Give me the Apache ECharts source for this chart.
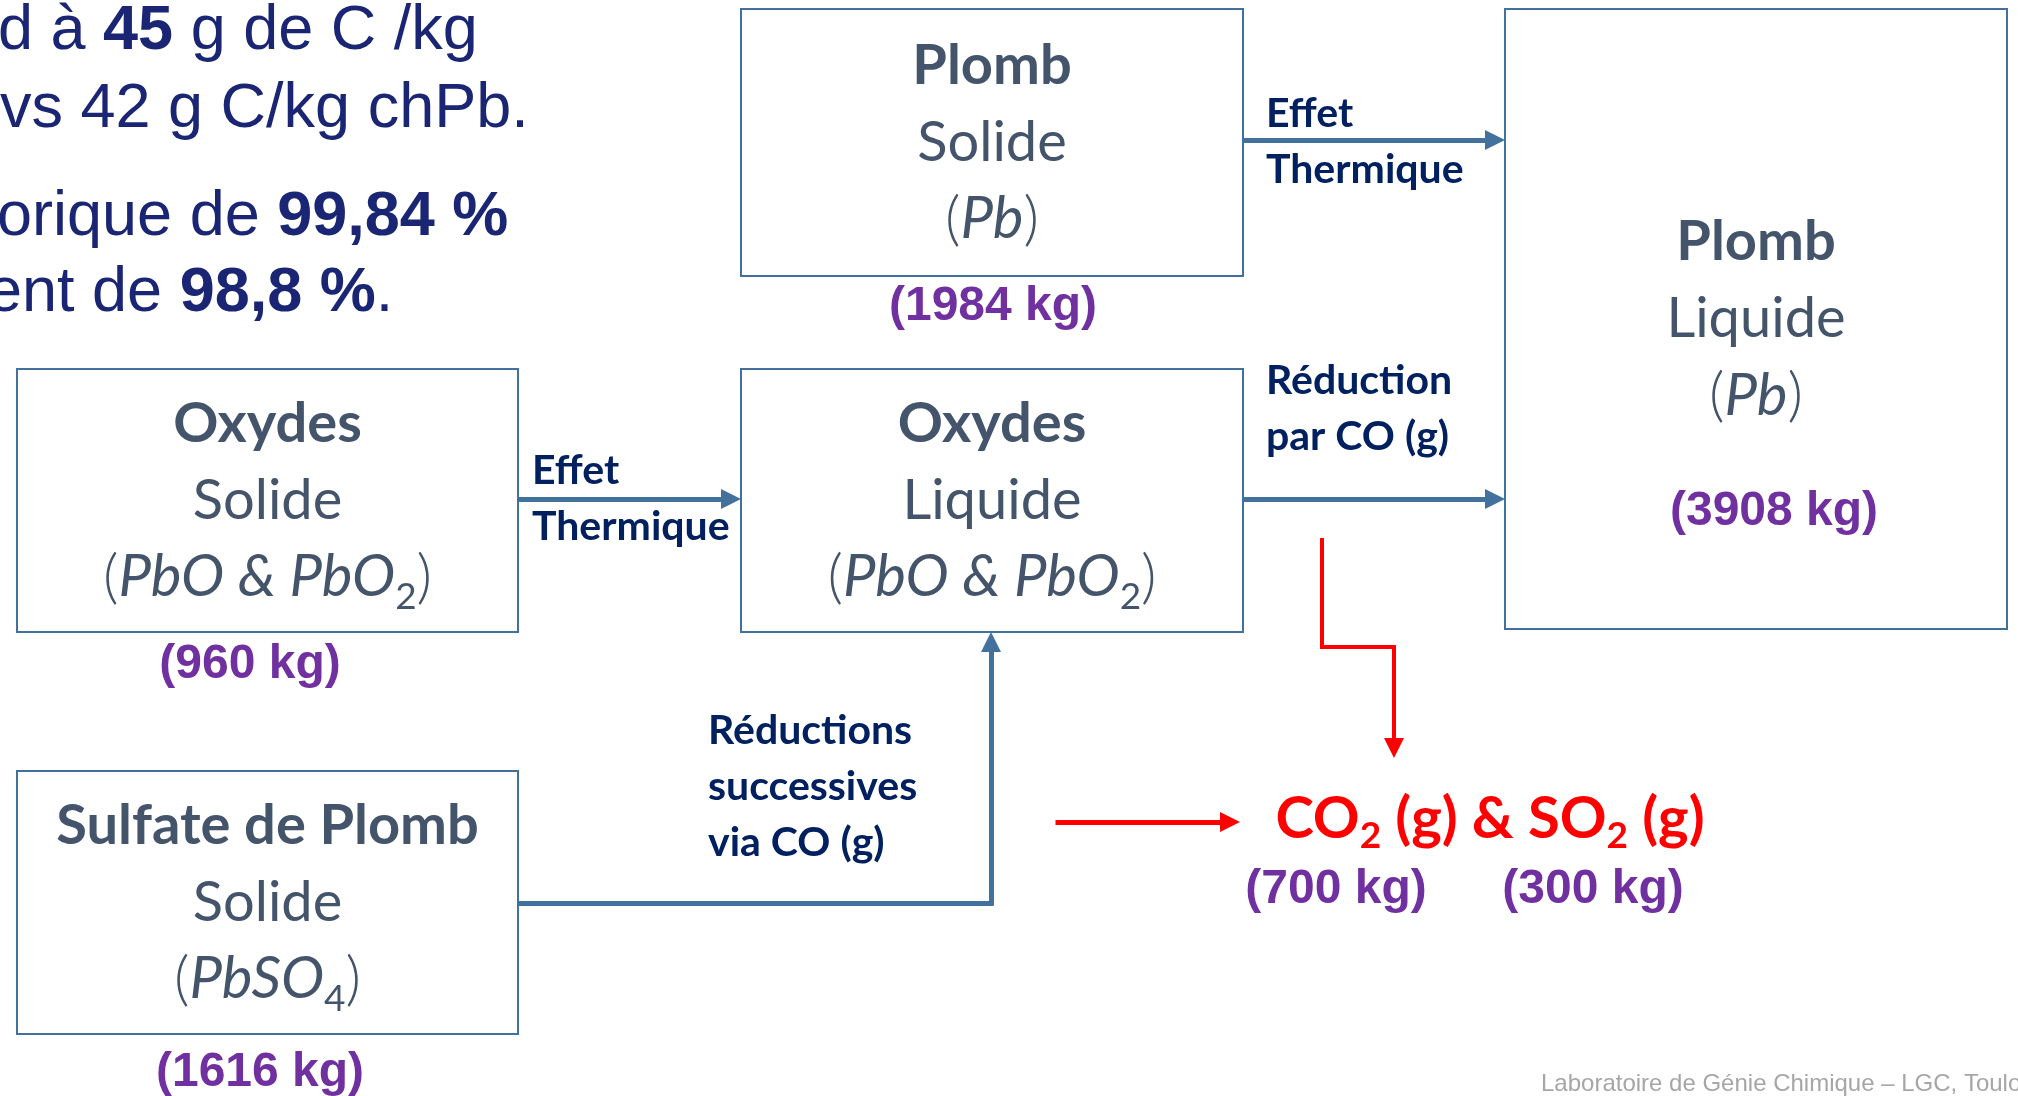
<!DOCTYPE html>
<html>
<head>
<meta charset="utf-8">
<script src="https://cdn.jsdelivr.net/npm/echarts@6/dist/echarts.min.js"></script>
<style>
  html, body { margin: 0; padding: 0; background: #fff; }
  #main { width: 2018px; height: 1096px; }
</style>
</head>
<body>
<div id="main"></div>
<script>
// bilan matière - réduction du plomb
var boxNames = ['Plomb', 'Plomb', 'Oxydes', 'Oxydes', 'Sulfate de Plomb'];
var boxStates = ['Solide', 'Liquide', 'Solide', 'Liquide', 'Solide'];
var boxFormulas = [['Pb', ''], ['Pb', ''], ['PbO & PbO', '2'], ['PbO & PbO', '2'], ['PbSO', '4']];
var boxMasses = [1984, 3908, 960, null, 1616];
var gasNames = [['CO', '2'], ['SO', '2']];
var gasMasses = [700, 300];
var arrowLabels = [
    ['Effet', 'Thermique'],
    ['Effet', 'Thermique'],
    ['Réduction', 'par CO (g)'],
    ['Réductions', 'successives', 'via CO (g)']
];
var noteLines = ['d à {b|45} g de C /kg', 'vs 42 g C/kg chPb.', 'orique de {b|99,84 %}', 'ent de {b|98,8 %}.'];
var footer = 'Laboratoire de Génie Chimique – LGC, Toulouse';

// mise en page (pixels)
var boxLayout = [[741, 9, 502, 267], [1505, 9, 502, 620], [17, 369, 501, 263], [741, 369, 502, 263], [17, 771, 501, 263]];
var massLayout = [[993, 307], [1774, 512], [250, 665], null, [260, 1073]];
var gasMassLayout = [[1336, 890], [1593, 890]];
var labelLayout = [[1266, 142], [532, 499], [1266, 409], [708, 787]];
var noteLayout = [[-2, 32], [0, 110], [-3, 218], [-13, 294]];

var blue = '#41719C';
var slate = '#44546A';
var navy = '#002060';
var purple = '#7030A0';
var red = '#FF0000';
var calibri = 'Lato, "Open Sans", sans-serif';
var arial = '"Liberation Sans", Arial, sans-serif';

// flèches : suite de points, la pointe est au dernier point
var blueArrows = [
    [[1246, 140], [1495, 140]],
    [[521, 499], [731, 499]],
    [[1246, 499], [1495, 499]],
    [[521, 903], [991, 903], [991, 642]]
];
var redArrows = [
    [[1322, 540], [1322, 647], [1394, 647], [1394, 748]]
];
var redArrowsThick = [
    [[1058, 822], [1230, 822]]
];

var graphics = [];

boxNames.forEach(function (name, i) {
    var b = boxLayout[i];
    graphics.push({
        type: 'rect',
        shape: { x: b[0], y: b[1], width: b[2], height: b[3] },
        style: { fill: 'none', stroke: blue, lineWidth: 2 }
    });
    var f = boxFormulas[i];
    var formula = '{p|(}{f|' + f[0] + '}' + (f[1] ? '{sub|' + f[1] + '}' : '') + '{p|)}';
    graphics.push({
        type: 'text',
        x: b[0] + b[2] / 2,
        y: b[1] + b[3] / 2,
        style: {
            text: '{n|' + name + '}\n{s|' + boxStates[i] + '}\n' + formula,
            align: 'center',
            verticalAlign: 'middle',
            lineHeight: 77,
            rich: {
                n: { fontFamily: calibri, fontWeight: 'bold', fontSize: 56, fill: slate, lineHeight: 77 },
                s: { fontFamily: calibri, fontSize: 56, fill: slate, lineHeight: 77 },
                p: { fontFamily: calibri, fontWeight: 300, fontSize: 60, fill: slate, lineHeight: 77 },
                f: { fontFamily: calibri, fontStyle: 'italic', fontSize: 58, fill: slate, lineHeight: 77 },
                sub: { fontFamily: calibri, fontSize: 37, fill: slate, lineHeight: 77, verticalAlign: 'bottom' }
            }
        }
    });
    if (boxMasses[i] != null) {
        graphics.push({
            type: 'text',
            x: massLayout[i][0],
            y: massLayout[i][1],
            style: {
                text: '(' + boxMasses[i] + ' kg)',
                fontFamily: arial, fontWeight: 'bold', fontSize: 48, fill: purple,
                align: 'center', verticalAlign: 'middle'
            }
        });
    }
});

arrowLabels.forEach(function (lines, i) {
    graphics.push({
        type: 'text',
        x: labelLayout[i][0],
        y: labelLayout[i][1],
        style: {
            text: lines.join('\n'),
            fontFamily: calibri, fontWeight: 'bold', fontSize: 41, fill: navy,
            lineHeight: 56, align: 'left', verticalAlign: 'middle'
        }
    });
});

// CO2 (g) & SO2 (g)
var gasText = gasNames.map(function (g) {
    return '{g|' + g[0] + '}{sub|' + g[1] + '}{g| (g)}';
}).join('{g| & }');
graphics.push({
    type: 'text',
    x: 1490,
    y: 819,
    style: {
        text: gasText,
        align: 'center',
        verticalAlign: 'middle',
        lineHeight: 72,
        rich: {
            g: { fontFamily: calibri, fontWeight: 'bold', fontSize: 58, fill: red, lineHeight: 72 },
            sub: { fontFamily: calibri, fontWeight: 'bold', fontSize: 37, fill: red, lineHeight: 72, verticalAlign: 'bottom' }
        }
    }
});
gasMasses.forEach(function (m, i) {
    graphics.push({
        type: 'text',
        x: gasMassLayout[i][0],
        y: gasMassLayout[i][1],
        style: {
            text: '(' + m + ' kg)',
            fontFamily: arial, fontWeight: 'bold', fontSize: 48, fill: purple,
            align: 'center', verticalAlign: 'middle'
        }
    });
});

noteLines.forEach(function (line, i) {
    graphics.push({
        type: 'text',
        x: noteLayout[i][0],
        y: noteLayout[i][1],
        style: {
            text: line,
            fontFamily: arial, fontSize: 63, fill: '#1A2674',
            align: 'left', verticalAlign: 'middle',
            rich: {
                b: { fontFamily: arial, fontWeight: 'bold', fontSize: 63, fill: '#1A2674' }
            }
        }
    });
});

graphics.push({
    type: 'text',
    x: 1541,
    y: 1084,
    style: {
        text: footer,
        fontFamily: arial, fontSize: 24, fill: '#A6A6A6',
        align: 'left', verticalAlign: 'middle'
    }
});

// découpe chaque flèche en segments ; seul le dernier porte la pointe
function arrowSeries(list, color, width) {
    var body = [], heads = [];
    list.forEach(function (pts) {
        for (var k = 0; k < pts.length - 1; k++) {
            var seg = { coords: [pts[k], pts[k + 1]] };
            if (k === pts.length - 2) heads.push(seg); else body.push(seg);
        }
    });
    var style = { color: color, width: width, opacity: 1, curveness: 0, cap: 'square' };
    return [{
        type: 'lines',
        coordinateSystem: 'cartesian2d',
        symbol: 'none',
        lineStyle: style,
        silent: true,
        data: body
    }, {
        type: 'lines',
        coordinateSystem: 'cartesian2d',
        symbol: ['none', 'triangle'],
        symbolSize: 20,
        lineStyle: style,
        silent: true,
        data: heads
    }];
}

var myChart = echarts.init(document.getElementById('main'));

option = {
    animation: false,
    backgroundColor: '#fff',
    grid: { left: 0, right: 0, top: 0, bottom: 0 },
    xAxis: { type: 'value', min: 0, max: 2018, show: false },
    yAxis: { type: 'value', min: 0, max: 1096, inverse: true, show: false },
    graphic: graphics,
    series: [].concat(
        arrowSeries(blueArrows, blue, 5),
        arrowSeries(redArrows, red, 4),
        arrowSeries(redArrowsThick, red, 5)
    )
};

myChart.setOption(option);
</script>
</body>
</html>
